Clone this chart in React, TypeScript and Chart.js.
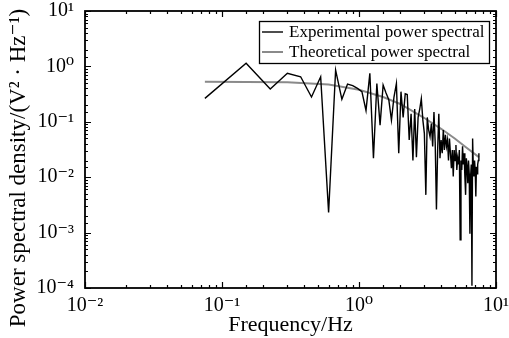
import React, { useEffect, useRef } from 'react';
import { Chart, registerables } from 'chart.js';

Chart.register(...registerables);

// Frequencies of the experimental spectrum (Hz)
const frequencies = [
  0.075, 0.15, 0.225, 0.3, 0.375, 0.45, 0.525, 0.6, 0.675, 0.75,
  0.825, 0.9, 0.975, 1.05, 1.125, 1.2, 1.275, 1.35, 1.425, 1.5,
  1.575, 1.65, 1.725, 1.8, 1.875, 1.95, 2.025, 2.1, 2.175, 2.25,
  2.325, 2.4, 2.475, 2.55, 2.625, 2.7, 2.775, 2.85, 2.925, 3.0,
  3.075, 3.15, 3.225, 3.3, 3.375, 3.45, 3.525, 3.6, 3.675, 3.75,
  3.825, 3.9, 3.975, 4.05, 4.125, 4.2, 4.275, 4.35, 4.425, 4.5,
  4.575, 4.65, 4.725, 4.8, 4.875, 4.95, 5.025, 5.1, 5.175, 5.25,
  5.325, 5.4, 5.475, 5.55, 5.625, 5.7, 5.775, 5.85, 5.925, 6.0,
  6.075, 6.15, 6.225, 6.3, 6.375, 6.45, 6.525, 6.6, 6.675, 6.75,
  6.825, 6.9, 6.975, 7.05, 7.125, 7.2, 7.275, 7.35, 7.425, 7.5,
];

// Experimental power spectral density (V^2/Hz)
const experimentalPsd = [
  0.265, 1.14, 0.39, 0.75, 0.65, 0.28, 0.65, 0.0023, 0.86, 0.255,
  0.48, 0.45, 0.40, 0.35, 0.16, 0.75, 0.022, 0.49, 0.087, 0.46,
  0.33, 0.25, 0.107, 0.28, 0.49, 0.027, 0.35, 0.12, 0.32, 0.31,
  0.047, 0.14, 0.020, 0.17, 0.023, 0.12, 0.17, 0.26, 0.107, 0.062,
  0.0048, 0.12, 0.071, 0.054, 0.093, 0.036, 0.15, 0.041, 0.0026, 0.031,
  0.14, 0.022, 0.047, 0.027, 0.071, 0.031, 0.058, 0.036, 0.047, 0.020,
  0.050, 0.027, 0.0145, 0.031, 0.0103, 0.031, 0.020, 0.038, 0.0135, 0.022,
  0.017, 0.031, 0.00074, 0.020, 0.0135, 0.036, 0.017, 0.027, 0.0103, 0.0048,
  0.022, 0.0155, 0.0078, 0.020, 0.0115, 0.00095, 0.0103, 0.017, 0.00011, 0.050,
  0.0155, 0.0103, 0.020, 0.0135, 0.0045, 0.0155, 0.0115, 0.017, 0.020, 0.027,
];

// Theoretical power spectral density, read at a few frequencies
const theoreticalFreq = [0.075, 0.3, 0.6, 1.0, 1.5, 2.0, 3.0, 4.0, 5.0, 6.0, 7.5];
const theoreticalPsd = [0.53, 0.52, 0.47, 0.38, 0.28, 0.21, 0.117, 0.074, 0.05, 0.035, 0.023];

const seriesLabels = ['Experimental power spectral', 'Theoretical power spectral'];

const xTickValues = [0.01, 0.1, 1, 10];
const xTickLabels = ['10\u207B\u00B2', '10\u207B\u00B9', '10\u2070', '10\u00B9'];
const yTickValues = [0.0001, 0.001, 0.01, 0.1, 1, 10];
const yTickLabels = ['10\u207B\u2074', '10\u207B\u00B3', '10\u207B\u00B2', '10\u207B\u00B9', '10\u2070', '10\u00B9'];

const xTitle = 'Frequency/Hz';
const yTitle = 'Power spectral density/(V\u00B2 \u00B7 Hz\u207B\u00B9)';

const FONT = "'Liberation Serif', 'Times New Roman', 'DejaVu Serif', serif";

const isClose = (a: number, b: number) => Math.abs(Math.log10(a) - Math.log10(b)) < 1e-6;
const isDecade = (v: number) => {
  const l = Math.log10(v);
  return Math.abs(l - Math.round(l)) < 1e-6;
};

const framePlugin = {
  id: 'frameTicks',
  afterDatasetsDraw(chart: any) {
    const { ctx, chartArea: a, scales } = chart;
    ctx.save();
    ctx.strokeStyle = '#000';
    ctx.lineWidth = 1.2;
    const xs = scales.x;
    const ys = scales.y;
    const major = 6;
    const minor = 3;
    ctx.beginPath();
    xs.ticks.forEach((t: any) => {
      const px = Math.round(xs.getPixelForValue(t.value)) + 0.5;
      const len = isDecade(t.value) ? major : minor;
      ctx.moveTo(px, a.bottom);
      ctx.lineTo(px, a.bottom - len);
      ctx.moveTo(px, a.top);
      ctx.lineTo(px, a.top + len);
    });
    ys.ticks.forEach((t: any) => {
      const py = Math.round(ys.getPixelForValue(t.value)) + 0.5;
      const len = isDecade(t.value) ? major : minor;
      ctx.moveTo(a.left, py);
      ctx.lineTo(a.left + len, py);
      ctx.moveTo(a.right, py);
      ctx.lineTo(a.right - len, py);
    });
    ctx.stroke();
    ctx.lineWidth = 1.8;
    ctx.strokeRect(a.left, a.top, a.right - a.left, a.bottom - a.top);
    ctx.restore();
  },
};

const legendPlugin = {
  id: 'boxLegend',
  afterDraw(chart: any) {
    const { ctx } = chart;
    const x0 = 259;
    const y0 = 21;
    const w = 230;
    const h = 42;
    ctx.save();
    ctx.fillStyle = '#fff';
    ctx.fillRect(x0, y0, w, h);
    ctx.strokeStyle = '#000';
    ctx.lineWidth = 1.3;
    ctx.strokeRect(x0 + 0.5, y0 + 0.5, w, h);
    ctx.font = `17px ${FONT}`;
    ctx.textBaseline = 'middle';
    chart.data.datasets.forEach((ds: any, i: number) => {
      const y = y0 + 11 + i * 20;
      ctx.strokeStyle = ds.borderColor;
      ctx.lineWidth = ds.borderWidth;
      ctx.beginPath();
      ctx.moveTo(x0 + 3, y);
      ctx.lineTo(x0 + 24, y);
      ctx.stroke();
      ctx.fillStyle = '#000';
      ctx.fillText(ds.label, x0 + 30, y + 1);
    });
    ctx.restore();
  },
};

const yTitlePlugin = {
  id: 'yTitle',
  afterDraw(chart: any) {
    const { ctx } = chart;
    ctx.save();
    ctx.translate(19, 168);
    ctx.rotate(-Math.PI / 2);
    ctx.font = `23px ${FONT}`;
    ctx.fillStyle = '#000';
    ctx.textAlign = 'center';
    ctx.textBaseline = 'middle';
    ctx.fillText(yTitle, 0, 0);
    ctx.restore();
  },
};

export default function App() {
  const ref = useRef<HTMLCanvasElement | null>(null);

  useEffect(() => {
    if (!ref.current) return;
    const chart = new Chart(ref.current, {
      type: 'line',
      data: {
        datasets: [
          {
            label: seriesLabels[0],
            data: frequencies.map((f, i) => ({ x: f, y: experimentalPsd[i] })),
            borderColor: '#000000',
            borderWidth: 1.4,
            pointRadius: 0,
            tension: 0,
            fill: false,
          },
          {
            label: seriesLabels[1],
            data: theoreticalFreq.map((f, i) => ({ x: f, y: theoreticalPsd[i] })),
            borderColor: '#8a8a8a',
            borderWidth: 2,
            pointRadius: 0,
            tension: 0,
            fill: false,
          },
        ],
      },
      options: {
        animation: false,
        responsive: false,
        maintainAspectRatio: false,
        layout: { padding: { top: 11, right: 13, left: 0, bottom: 0 } },
        plugins: {
          legend: { display: false },
          tooltip: { enabled: false },
        },
        scales: {
          x: {
            type: 'logarithmic',
            min: 0.01,
            max: 10,
            grid: { display: false },
            border: { display: false },
            ticks: {
              autoSkip: false,
              maxRotation: 0,
              minRotation: 0,
              padding: -2,
              color: '#000',
              font: { family: FONT, size: 20 },
              callback: (v: any) => {
                const idx = xTickValues.findIndex((t) => isClose(t, Number(v)));
                return idx >= 0 ? xTickLabels[idx] : '';
              },
            },
            title: {
              display: true,
              text: xTitle,
              color: '#000',
              font: { family: FONT, size: 22 },
              padding: { top: 0, bottom: 0 },
            },
            afterFit: (s: any) => {
              s.height = 50;
              s.paddingLeft = 0;
              s.paddingRight = 0;
            },
          },
          y: {
            type: 'logarithmic',
            min: 0.0001,
            max: 10,
            grid: { display: false },
            border: { display: false },
            ticks: {
              autoSkip: false,
              padding: 3,
              color: '#000',
              font: { family: FONT, size: 20 },
              callback: (v: any) => {
                const idx = yTickValues.findIndex((t) => isClose(t, Number(v)));
                return idx >= 0 ? yTickLabels[idx] : '';
              },
            },
            afterFit: (s: any) => {
              s.width = 85;
              s.paddingTop = 0;
              s.paddingBottom = 0;
            },
          },
        },
      } as any,
      plugins: [framePlugin, legendPlugin, yTitlePlugin],
    });
    return () => chart.destroy();
  }, []);

  return (
    <div style={{ position: 'fixed', left: 0, top: 0, width: 509, height: 338, background: '#fff' }}>
      <canvas ref={ref} width={509} height={338} style={{ width: 509, height: 338 }} />
    </div>
  );
}
